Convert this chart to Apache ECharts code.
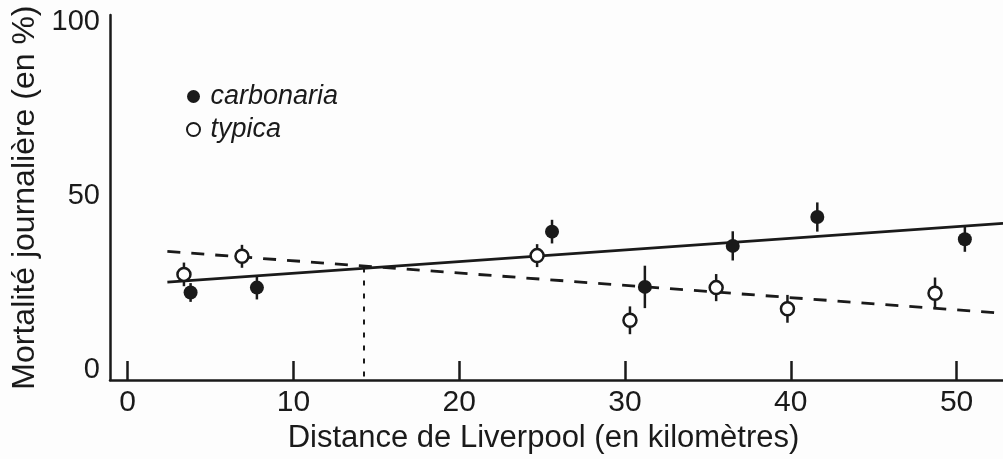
<!DOCTYPE html>
<html>
<head>
<meta charset="utf-8">
<title>Mortalité journalière et distance de Liverpool</title>
<script src="https://cdn.jsdelivr.net/npm/echarts@6/dist/echarts.min.js"></script>
<style>
  html, body { margin: 0; padding: 0; background: #fdfdfd; }
  #chart { width: 1003px; height: 459px; }
</style>
</head>
<body>
<div id="chart"></div>
<script>
// Distance from Liverpool (km) and daily mortality (%) of the two forms
const carbonariaX = [3.8, 7.8, 25.6, 31.2, 36.5, 41.6, 50.5];
const carbonariaY = [22.2, 23.6, 39.7, 23.8, 35.6, 43.9, 37.5];
const carbonariaErr = [2.7, 3.4, 3.4, 6.1, 4.2, 4.2, 3.6];

const typicaX = [3.4, 6.9, 24.7, 30.3, 35.5, 39.8, 48.7];
const typicaY = [27.4, 32.6, 32.8, 14.2, 23.6, 17.5, 22.0];
const typicaErr = [3.4, 3.3, 3.3, 4.0, 3.9, 4.0, 4.5];

// Fitted trend lines (end points in data units)
const carbonariaFitX = [2.4, 52.8];
const carbonariaFitY = [25.2, 42.1];
const typicaFitX = [2.4, 52.8];
const typicaFitY = [34.0, 16.2];

// Distance where the two trends cross
const crossX = 14.26;
const crossY = 29.4;

const xTicks = [0, 10, 20, 30, 40, 50];
const yTicks = [0, 50, 100];

const ink = '#1a1a1a';
const FONT = '"Liberation Sans", Arial, Helvetica, sans-serif';

const zip = (xs, ys) => xs.map((x, i) => [x, ys[i]]);
const bars = (xs, ys, es) => xs.map((x, i) => [x, ys[i] - es[i], ys[i] + es[i]]);

function errorBar(params, api) {
  const p1 = api.coord([api.value(0), api.value(1)]);
  const p2 = api.coord([api.value(0), api.value(2)]);
  return {
    type: 'line',
    shape: { x1: p1[0], y1: p1[1], x2: p2[0], y2: p2[1] },
    style: { stroke: ink, lineWidth: 2.5 }
  };
}

const chart = echarts.init(document.getElementById('chart'), null, { renderer: 'canvas' });

chart.setOption({
  backgroundColor: '#fdfdfd',
  animation: false,
  textStyle: { fontFamily: FONT, color: ink },
  grid: { left: 110, right: 0, top: 15, bottom: 74, containLabel: false },
  legend: {
    data: ['carbonaria', 'typica'],
    orient: 'vertical',
    left: 181,
    top: 78,
    itemWidth: 24,
    itemHeight: 13,
    itemGap: 6,
    textStyle: { fontFamily: FONT, fontStyle: 'italic', fontSize: 27, color: ink }
  },
  xAxis: {
    type: 'value',
    min: -1.06,
    max: 52.8,
    name: 'Distance de Liverpool (en kilomètres)',
    nameLocation: 'middle',
    nameGap: 22,
    nameTextStyle: { fontFamily: FONT, fontSize: 31, color: ink, padding: [0, 26, 0, 0] },
    axisLine: { show: true, onZero: false, lineStyle: { color: ink, width: 2.5 } },
    axisTick: { show: true, inside: true, length: 19, customValues: xTicks, lineStyle: { color: ink, width: 2.5 } },
    axisLabel: { show: true, customValues: xTicks, margin: 8, fontSize: 30, color: ink, fontFamily: FONT },
    splitLine: { show: false }
  },
  yAxis: {
    type: 'value',
    min: -3,
    max: 102,
    name: 'Mortalité journalière (en %)',
    nameLocation: 'middle',
    nameGap: 64,
    nameTextStyle: { fontFamily: FONT, fontSize: 32, color: ink },
    axisLine: { show: true, onZero: false, lineStyle: { color: ink, width: 2.5 } },
    axisTick: { show: false },
    axisLabel: { show: true, customValues: yTicks, margin: 10, fontSize: 29, color: ink, fontFamily: FONT },
    splitLine: { show: false }
  },
  series: [
    {
      name: 'carbonaria fit',
      type: 'line',
      data: zip(carbonariaFitX, carbonariaFitY),
      symbol: 'none',
      lineStyle: { color: ink, width: 2.8, type: 'solid' },
      z: 1
    },
    {
      name: 'typica fit',
      type: 'line',
      data: zip(typicaFitX, typicaFitY),
      symbol: 'none',
      lineStyle: { color: ink, width: 2.8, type: [13, 11] },
      z: 1
    },
    {
      name: 'crossing',
      type: 'line',
      data: [[crossX, crossY], [crossX, -3]],
      symbol: 'none',
      lineStyle: { color: ink, width: 2, type: [5, 8] },
      z: 1
    },
    {
      name: 'carbonaria err',
      type: 'custom',
      renderItem: errorBar,
      data: bars(carbonariaX, carbonariaY, carbonariaErr),
      z: 2
    },
    {
      name: 'typica err',
      type: 'custom',
      renderItem: errorBar,
      data: bars(typicaX, typicaY, typicaErr),
      z: 2
    },
    {
      name: 'carbonaria',
      type: 'scatter',
      data: zip(carbonariaX, carbonariaY),
      symbol: 'circle',
      symbolSize: 14,
      itemStyle: { color: ink, opacity: 1 },
      z: 3
    },
    {
      name: 'typica',
      type: 'scatter',
      data: zip(typicaX, typicaY),
      symbol: 'circle',
      symbolSize: 13,
      itemStyle: { color: '#ffffff', borderColor: ink, borderWidth: 2.5, opacity: 1 },
      z: 3
    }
  ]
});
</script>
</body>
</html>
